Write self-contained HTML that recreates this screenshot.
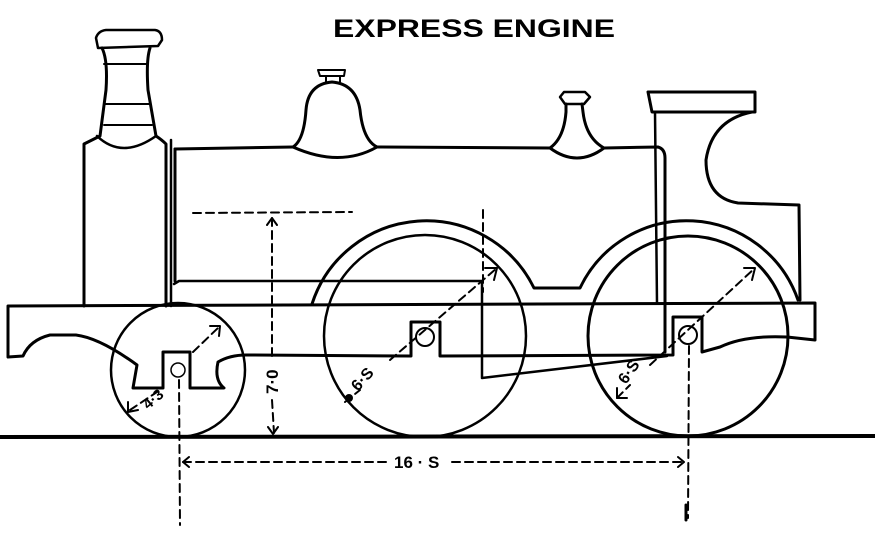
<!DOCTYPE html>
<html><head><meta charset="utf-8"><style>html,body{margin:0;padding:0;background:#fff}svg{display:block}</style></head>
<body>
<svg width="875" height="535" viewBox="0 0 875 535" xmlns="http://www.w3.org/2000/svg" fill="none" stroke="#000" stroke-linecap="round" stroke-linejoin="round">
<text x="333" y="37" font-family="Liberation Sans, sans-serif" font-weight="bold" font-size="25" fill="#000" stroke="none" textLength="282" lengthAdjust="spacingAndGlyphs">EXPRESS  ENGINE</text>
<path d="M98 48 L96 38 Q98 31 106 30 L155 30 Q162 31 162 40 L158 46 Z" stroke-width="2.5"/>
<path d="M102 48 Q108 60 106 90 L100 136 Q92 140 84 144 L84 306" stroke-width="3"/>
<path d="M150 48 Q146 60 148 90 L156 136 Q162 140 166 144 L166 306" stroke-width="3"/>
<path d="M104 64 L148 64 M104 104 L150 104 M104 125 L152 125" stroke-width="2"/>
<path d="M97 136 Q122 160 156 136" stroke-width="2.5"/>
<path d="M171 140 L171 306" stroke-width="2.5"/>
<path d="M175 149 L293 147 M377 147 L550 148 M604 148 L658 147 Q665 149 665 158 L665 352" stroke-width="3"/>
<path d="M174 284 L179 281 L482 281 L482 378 L667 356" stroke-width="2.5"/>
<path d="M175 149 L175 281" stroke-width="3"/>
<path d="M293 147 Q304 140 306 110 Q308 84 332 82 Q356 84 360 110 Q363 140 377 147 Q340 168 293 147" stroke-width="3"/>
<path d="M318 70 L345 70 L344 76 L320 76 Z M326 76 L326 82 M340 76 L340 82" stroke-width="2"/>
<path d="M550 148 Q564 138 566 112 L566 104 M582 104 L583 112 Q586 138 604 148 Q577 168 550 148" stroke-width="3"/>
<path d="M560 97 L564 92 L585 92 L590 97 L584 104 L565 104 Z" stroke-width="2.5"/>
<path d="M648 92 L755 92 L755 112 L652 112 Z" stroke-width="3"/>
<path d="M655 112 L657 303" stroke-width="2.5"/>
<path d="M752 112 Q712 120 706 160 Q706 198 738 203 L799 205 L800 300" stroke-width="3"/>
<path d="M312 304 A120 120 0 0 1 534 288 L580 288 A118 118 0 0 1 798 300" stroke-width="3"/>
<path d="M8 306 L815 303 L815 340 L787 337 Q745 335 720 347 L702 352 L702 317 L673 317 L673 355 L440 356 L440 322 L411 322 L411 356 L246 355 Q230 355 218 362 Q214 380 224 388 L190 388 L190 352 L163 352 L163 388 L133 388 L137 365 Q100 338 76 335 L50 335 Q30 340 23 356 L8 357 Z" stroke-width="3"/>
<circle cx="178" cy="370" r="67" stroke-width="2.5"/>
<circle cx="425" cy="336" r="101" stroke-width="2.5"/>
<circle cx="688" cy="336" r="100" stroke-width="3"/>
<circle cx="178" cy="370" r="7" stroke-width="1.5"/>
<circle cx="425" cy="337" r="9" stroke-width="2"/>
<circle cx="688" cy="335" r="9" stroke-width="2"/>
<path d="M0 437 L875 436" stroke-width="4"/>
<g stroke-width="2" stroke-dasharray="8 5">
<path d="M179 380 L180 525"/>
<path d="M689 346 L688 518"/>
<path d="M183 462 L390 462 M452 462 L684 462"/>
<path d="M193 213 L352 212"/>
<path d="M272 218 L272 360 M272 400 L274 433"/>
<path d="M483 210 L483 292"/>
<path d="M130 410 L160 390 M193 352 L220 326"/>
<path d="M345 402 L360 390 M390 360 L497 268"/>
<path d="M617 398 L630 385 M650 365 L755 268"/>
</g>
<path d="M686 505 L686 520" stroke-width="3"/>
<path d="M189 457 L183 462 L189 467 M678 457 L684 462 L678 467 M267 225 L272 218 L277 225 M268 427 L273 434 L278 427" stroke-width="2"/>
<path d="M210 326 L220 326 L219 336 M485 268 L497 268 L494 280 M744 268 L755 268 L752 280 M128 402 L128 412 L138 410 M617 388 L617 398 L627 398" stroke-width="2"/>
<circle cx="349" cy="398" r="4" fill="#000" stroke="none"/>
<g font-family="Liberation Sans, sans-serif" font-weight="bold" fill="#000" stroke="none">
<text x="394" y="468" font-size="17">16 · S</text>
<text transform="translate(278,394) rotate(-90)" font-size="17">7·0</text>
<text transform="translate(148,410) rotate(-40)" font-size="15">4·3</text>
<text transform="translate(358,392) rotate(-48)" font-size="16">6·S</text>
<text transform="translate(626,385) rotate(-55)" font-size="16">6·S</text>
</g>
</svg>
</body></html>
